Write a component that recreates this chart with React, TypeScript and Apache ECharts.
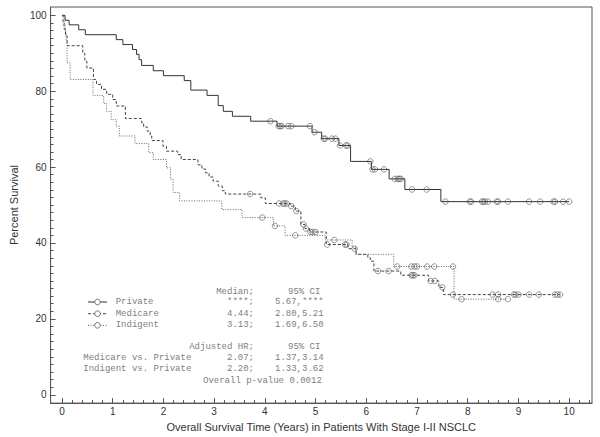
import { useEffect, useRef } from 'react';
import * as echarts from 'echarts';

// ---------- Data ----------
const xTickValues = [0, 1, 2, 3, 4, 5, 6, 7, 8, 9, 10];
const yTickValues = [0, 20, 40, 60, 80, 100];

const privateTimes = [0, 0.06, 0.14, 0.33, 0.46, 1.07, 1.2, 1.39, 1.47, 1.52, 1.57, 1.8, 2.0, 2.41, 2.54, 2.86, 3.08, 3.18, 3.36, 3.72, 4.24, 4.93, 5.12, 5.46, 5.69, 6.1, 6.45, 6.76, 7.47, 10.0];
const privateSurv = [100, 98.7, 97.5, 96.2, 94.9, 93.6, 92.3, 91.0, 89.7, 88.3, 86.8, 85.4, 84.1, 82.8, 80.3, 78.9, 76.2, 74.7, 73.4, 72.1, 70.8, 69.2, 67.5, 65.7, 61.5, 59.4, 56.9, 54.1, 50.9, 50.9];
const privateCensor = [4.11, 4.27, 4.3, 4.33, 4.46, 4.52, 4.89, 4.98, 5.16, 5.19, 5.32, 5.39, 5.48, 5.6, 5.63, 6.08, 6.12, 6.17, 6.35, 6.56, 6.62, 6.65, 6.68, 6.9, 7.19, 7.56, 8.04, 8.07, 8.28, 8.31, 8.34, 8.4, 8.57, 8.6, 8.79, 9.21, 9.43, 9.69, 9.72, 9.88, 10.0];

const medicareTimes = [0, 0.02, 0.04, 0.07, 0.1, 0.41, 0.45, 0.49, 0.62, 0.68, 0.78, 0.88, 1.0, 1.07, 1.25, 1.57, 1.61, 1.68, 1.74, 1.77, 1.99, 2.06, 2.28, 2.35, 2.68, 2.76, 2.83, 2.9, 2.98, 3.08, 3.16, 3.22, 3.92, 4.01, 4.5, 4.6, 4.71, 4.79, 4.88, 5.21, 5.64, 5.8, 6.03, 6.08, 6.15, 6.68, 7.23, 7.43, 7.52, 9.82];
const medicareSurv = [100, 98.2, 96.4, 94.6, 92.0, 90.0, 87.9, 86.1, 83.1, 81.8, 80.5, 79.2, 77.8, 76.1, 72.8, 71.7, 70.6, 69.5, 68.2, 67.0, 65.5, 64.2, 63.3, 62.0, 60.6, 59.5, 58.5, 57.4, 56.3, 55.0, 53.8, 52.9, 51.9, 50.4, 49.7, 48.4, 44.9, 43.8, 42.9, 39.6, 38.5, 37.0, 36.1, 35.2, 32.6, 31.5, 30.0, 28.3, 26.4, 26.4];
const medicareCensor = [3.71, 4.28, 4.36, 4.39, 4.43, 4.52, 4.62, 4.76, 4.81, 4.9, 4.94, 5.0, 5.23, 5.58, 5.61, 5.77, 6.23, 6.44, 6.89, 6.92, 6.95, 7.27, 7.35, 7.5, 7.71, 8.49, 8.6, 8.91, 8.94, 9.0, 9.21, 9.4, 9.72, 9.77, 9.82];

const indigentTimes = [0, 0.04, 0.06, 0.08, 0.1, 0.16, 0.61, 0.82, 0.88, 0.97, 1.07, 1.13, 1.44, 1.71, 1.8, 2.06, 2.14, 2.19, 2.32, 3.15, 3.55, 4.17, 4.4, 5.19, 5.72, 5.79, 6.54, 7.73, 8.79];
const indigentSurv = [100, 97.9, 95.7, 93.6, 87.5, 83.1, 78.9, 76.8, 74.7, 72.5, 70.8, 68.2, 66.2, 63.8, 62.0, 59.8, 56.8, 53.3, 51.1, 48.8, 46.7, 44.5, 42.0, 40.8, 38.9, 37.0, 33.8, 25.2, 25.2];
const indigentCensor = [3.95, 4.2, 4.6, 5.37, 6.61, 6.89, 6.95, 7.0, 7.2, 7.34, 7.71, 7.88, 8.6, 8.79];

const groupNames = ['Private', 'Medicare', 'Indigent'];
const medianHeader = ['Median;', '95% CI'];
const medianValues = ['****;', '4.44;', '3.13;'];
const medianCI = ['5.67,****', '2.80,5.21', '1.69,6.50'];
const hrHeader = ['Adjusted HR;', '95% CI'];
const hrNames = ['Medicare vs. Private', 'Indigent vs. Private'];
const hrValues = ['2.07;', '2.20;'];
const hrCI = ['1.37,3.14', '1.33,3.62'];
const pValueText = 'Overall p-value 0.0012';

const xTitle = 'Overall Survival Time (Years) in Patients With Stage I-II NSCLC';
const yTitle = 'Percent Survival';

// ---------- helpers ----------
const kmPoints = (times: number[], surv: number[]) => times.map((t, i) => [t, surv[i]]);
const censorPoints = (times: number[], surv: number[], cens: number[]) =>
  cens.map((c) => {
    let v = surv[0];
    for (let i = 0; i < times.length; i++) if (times[i] <= c) v = surv[i];
    return [c, v];
  });

const X_MIN = -0.225;
const X_MAX = 10.45;
const Y_MIN = -2.2;
const Y_MAX = 102.2;

const xMinor: number[] = [];
for (let i = 1; i <= 52; i++) if (i % 5 !== 0) xMinor.push(Math.round(i * 20) / 100);
const yMinor: number[] = [];
for (let i = 1; i <= 50; i++) if (i % 10 !== 0) yMinor.push(i * 2);

const AXIS_COLOR = '#555';
const LABEL_FONT = '"Liberation Sans", Arial, sans-serif';
const MONO = '"Liberation Mono", "DejaVu Sans Mono", monospace';
const TEXT_GRAY = '#808080';

const lineColors = ['#333', '#444', '#666'];
const lineTypes: any[] = ['solid', [3, 2], [1, 1.5]];
const legendDash: any[] = [null, [3, 2], [1, 1.5]];

export default function App() {
  const ref = useRef<HTMLDivElement>(null);

  useEffect(() => {
    if (!ref.current) return;
    const chart = echarts.init(ref.current, null, { renderer: 'svg' });

    const curves = [
      { times: privateTimes, surv: privateSurv, cens: privateCensor },
      { times: medicareTimes, surv: medicareSurv, cens: medicareCensor },
      { times: indigentTimes, surv: indigentSurv, cens: indigentCensor },
    ];

    const series: any[] = [];
    curves.forEach((c, i) => {
      series.push({
        name: groupNames[i],
        type: 'line',
        step: 'end',
        symbol: 'none',
        data: kmPoints(c.times, c.surv),
        lineStyle: { color: lineColors[i], width: 1, type: lineTypes[i] },
        silent: true,
        z: 3,
      });
    });
    curves.forEach((c, i) => {
      series.push({
        name: groupNames[i] + ' censored',
        type: 'scatter',
        symbol: 'circle',
        symbolSize: 5.5,
        data: censorPoints(c.times, c.surv, c.cens),
        itemStyle: { color: 'rgba(255,255,255,0)', borderColor: '#555', borderWidth: 0.8 },
        silent: true,
        z: 4,
      });
    });

    const rowY = [302, 313.7, 325.3];
    const graphics: any[] = [];
    const txt = (text: string, x: number, y: number, align: string) => ({
      type: 'text',
      x,
      y,
      silent: true,
      style: {
        text,
        fill: TEXT_GRAY,
        font: `9px ${MONO}`,
        textAlign: align,
        textVerticalAlign: 'middle',
      },
    });
    graphics.push(txt(medianHeader[0], 254, 291.5, 'right'));
    graphics.push(txt(medianHeader[1], 288, 291.5, 'left'));
    groupNames.forEach((g, i) => {
      const y = rowY[i];
      graphics.push({
        type: 'line',
        silent: true,
        shape: { x1: 88, y1: y, x2: 107, y2: y },
        style: { stroke: lineColors[i], lineWidth: 1, lineDash: legendDash[i] },
      });
      graphics.push({
        type: 'circle',
        silent: true,
        shape: { cx: 97.5, cy: y, r: 2.8 },
        style: { fill: '#fff', stroke: '#555', lineWidth: 0.8 },
      });
      graphics.push(txt(g, 115.7, y, 'left'));
      graphics.push(txt(medianValues[i], 254, y, 'right'));
      graphics.push(txt(medianCI[i], 275, y, 'left'));
    });
    graphics.push(txt(hrHeader[0], 254, 347, 'right'));
    graphics.push(txt(hrHeader[1], 288, 347, 'left'));
    const hrY = [357.7, 368.5];
    hrNames.forEach((n, i) => {
      graphics.push(txt(n, 83.3, hrY[i], 'left'));
      graphics.push(txt(hrValues[i], 254, hrY[i], 'right'));
      graphics.push(txt(hrCI[i], 275, hrY[i], 'left'));
    });
    graphics.push(txt(pValueText, 203, 380.5, 'left'));

    const option: any = {
      animation: false,
      backgroundColor: '#fff',
      grid: {
        left: 36,
        right: 8,
        top: 7,
        bottom: 33,
        show: true,
        borderColor: AXIS_COLOR,
        borderWidth: 1,
        backgroundColor: 'transparent',
      },
      xAxis: [
        {
          type: 'value',
          min: X_MIN,
          max: X_MAX,
          position: 'bottom',
          axisLine: { show: true, onZero: false, lineStyle: { color: AXIS_COLOR, width: 1 } },
          axisTick: { show: true, inside: true, length: 5, customValues: xTickValues, lineStyle: { color: AXIS_COLOR } },
          axisLabel: { show: true, customValues: xTickValues, margin: 3, color: '#333', fontSize: 10, fontFamily: LABEL_FONT },
          splitLine: { show: false },
          name: xTitle,
          nameLocation: 'middle',
          nameGap: 17,
          nameTextStyle: { color: '#333', fontSize: 11, fontFamily: LABEL_FONT },
        },
        {
          type: 'value',
          min: X_MIN,
          max: X_MAX,
          position: 'bottom',
          axisLine: { show: false, onZero: false },
          axisTick: { show: true, inside: true, length: 3, customValues: xMinor, lineStyle: { color: AXIS_COLOR } },
          axisLabel: { show: false },
          splitLine: { show: false },
        },
      ],
      yAxis: [
        {
          type: 'value',
          min: Y_MIN,
          max: Y_MAX,
          position: 'left',
          axisLine: { show: true, onZero: false, lineStyle: { color: AXIS_COLOR, width: 1 } },
          axisTick: { show: true, inside: true, length: 5, customValues: yTickValues, lineStyle: { color: AXIS_COLOR } },
          axisLabel: { show: true, customValues: yTickValues, margin: 4, color: '#333', fontSize: 10, fontFamily: LABEL_FONT },
          splitLine: { show: false },
          name: yTitle,
          nameLocation: 'middle',
          nameGap: 24,
          nameRotate: 90,
          nameTextStyle: { color: '#333', fontSize: 11, fontFamily: LABEL_FONT },
        },
        {
          type: 'value',
          min: Y_MIN,
          max: Y_MAX,
          position: 'left',
          axisLine: { show: false, onZero: false },
          axisTick: { show: true, inside: true, length: 3, customValues: yMinor, lineStyle: { color: AXIS_COLOR } },
          axisLabel: { show: false },
          splitLine: { show: false },
        },
      ],
      series,
      graphic: graphics,
    };

    chart.setOption(option);
    return () => chart.dispose();
  }, []);

  return <div ref={ref} style={{ position: 'absolute', left: 0, top: 0, width: 600, height: 437 }} />;
}
